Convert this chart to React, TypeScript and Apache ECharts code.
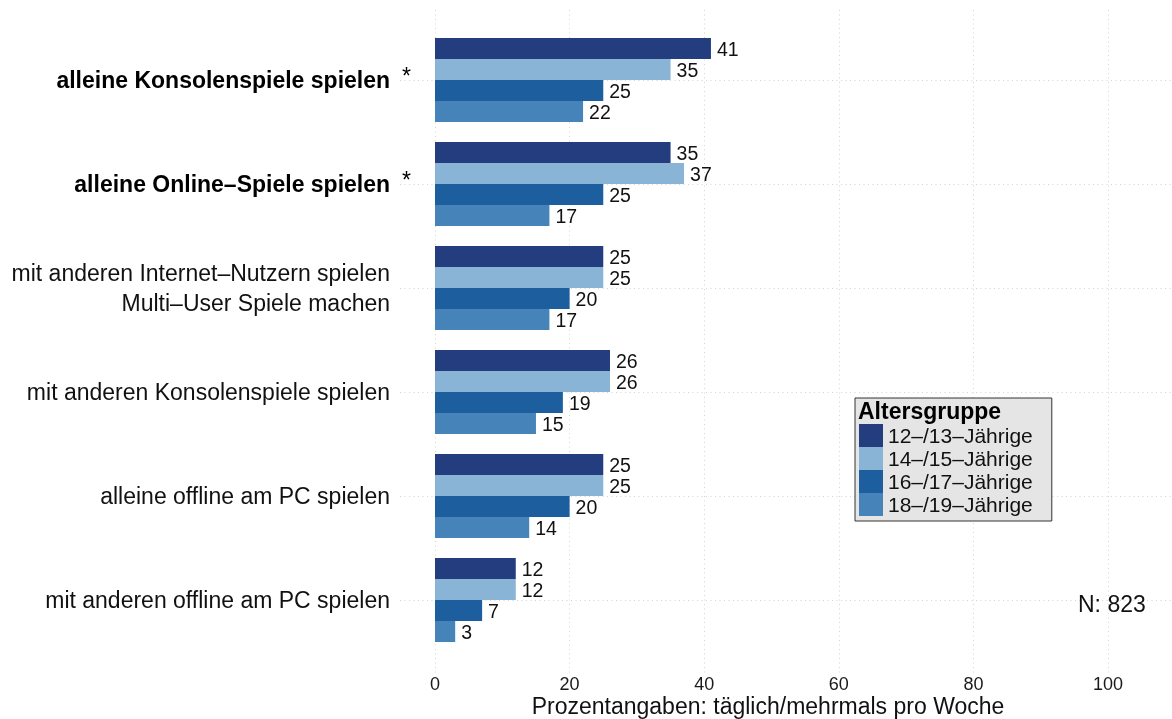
import React, { useEffect, useRef } from 'react';
import * as echarts from 'echarts';

const categories = [
  'alleine Konsolenspiele spielen',
  'alleine Online–Spiele spielen',
  'mit anderen Internet–Nutzern spielen\nMulti–User Spiele machen',
  'mit anderen Konsolenspiele spielen',
  'alleine offline am PC spielen',
  'mit anderen offline am PC spielen',
];
const starred = [true, true, false, false, false, false];
const seriesNames = ['12–/13–Jährige', '14–/15–Jährige', '16–/17–Jährige', '18–/19–Jährige'];
const age1213 = [41, 35, 25, 26, 25, 12];
const age1415 = [35, 37, 25, 26, 25, 12];
const age1617 = [25, 25, 20, 19, 20, 7];
const age1819 = [22, 17, 17, 15, 14, 3];
const colors = ['#233D7F', '#8AB4D6', '#1D5F9E', '#4683B9'];
const legendTitle = 'Altersgruppe';
const axisTitle = 'Prozentangaben: täglich/mehrmals pro Woche';
const sampleNote = 'N: 823';

export default function App() {
  const ref = useRef<HTMLDivElement>(null);
  useEffect(() => {
    const chart = echarts.init(ref.current!, null, { renderer: 'svg' });
    const FONT = '"Liberation Sans", Arial, Helvetica, sans-serif';
    const dotted = { color: '#d4d4d4', type: [1, 3.5], width: 1 };
    const values = [age1213, age1415, age1617, age1819];
    chart.setOption({
      animation: false,
      textStyle: { fontFamily: FONT },
      grid: [
        { left: 435, right: 0, top: 28, height: 624 },
        { left: 400, right: 0, top: 80, height: 520 },
        { left: 435, right: 0, top: 10, height: 663 },
      ],
      xAxis: [
        { gridIndex: 0, type: 'value', min: 0, max: 109.5, show: false },
        { gridIndex: 1, type: 'value', min: 0, max: 1, show: false },
        {
          gridIndex: 2, type: 'value', min: 0, max: 109.5, interval: 20,
          axisLine: { show: false }, axisTick: { show: false },
          splitLine: { show: true, showMaxLine: false, lineStyle: dotted },
          axisLabel: {
            fontSize: 18, color: '#1a1a1a', margin: 2, showMaxLabel: false,
            formatter: (v: number) => (v % 20 === 0 ? String(v) : ''),
          },
        },
      ],
      yAxis: [
        {
          gridIndex: 0, type: 'category', data: categories, inverse: true,
          axisLine: { show: false }, axisTick: { show: false }, splitLine: { show: false },
          axisLabel: {
            margin: 24,
            align: 'right',
            formatter: (value: string, index: number) => {
              if (starred[index]) return `{b|${value}}{s|*}`;
              return value.split('\n').map((l) => `{n|${l}}`).join('\n');
            },
            rich: {
              n: { fontSize: 23, color: '#111', lineHeight: 30, padding: [0, 21, 0, 0], fontFamily: FONT },
              b: { fontSize: 23, color: '#000', fontWeight: 'bold', fontFamily: FONT },
              s: { fontSize: 23, color: '#000', padding: [0, 0, 8, 12], fontFamily: FONT },
            },
          },
        },
        {
          gridIndex: 1, type: 'value', min: 0, max: 5, interval: 1, inverse: true,
          axisLine: { show: false }, axisTick: { show: false }, axisLabel: { show: false },
          splitLine: { show: true, lineStyle: dotted },
        },
        { gridIndex: 2, type: 'value', min: 0, max: 1, show: false },
      ],
      legend: {
        orient: 'vertical', left: 855, top: 398,
        backgroundColor: '#e5e5e5', borderColor: '#333', borderWidth: 1,
        padding: [26, 19, 5, 4], itemWidth: 24, itemHeight: 23, itemGap: 0, icon: 'rect',
        textStyle: { fontSize: 21, lineHeight: 23, color: '#111', fontFamily: FONT },
        data: seriesNames,
      },
      graphic: [
        { type: 'text', left: 858, top: 399, z: 100, style: { text: legendTitle, font: `bold 23px ${FONT}`, fill: '#000' } },
        { type: 'text', left: 1078, top: 592, z: 100, style: { text: sampleNote, font: `23px ${FONT}`, fill: '#111' } },
        { type: 'text', x: 768, y: 694, z: 100, style: { text: axisTitle, font: `23px ${FONT}`, fill: '#111', textAlign: 'center' } },
      ],
      series: values.map((v, i) => ({
        type: 'bar', name: seriesNames[i], xAxisIndex: 0, yAxisIndex: 0, data: v,
        barWidth: 21, barGap: '0%',
        itemStyle: { color: colors[i] },
        label: { show: true, position: 'right', distance: 6, fontSize: 19.5, color: '#111', fontFamily: FONT },
      })),
    });
    return () => chart.dispose();
  }, []);
  return <div ref={ref} style={{ position: 'fixed', left: 0, top: 0, width: 1172, height: 719 }} />;
}
